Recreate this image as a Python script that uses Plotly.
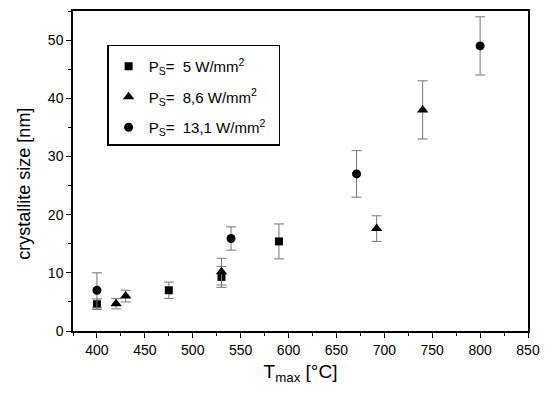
import plotly.graph_objects as go

# P_S = 5 W/mm2 (squares)
sq_x = [400, 475, 530, 590]
sq_y = [4.6, 7.0, 9.3, 15.4]
sq_e = [0.9, 1.4, 1.8, 3.0]
# P_S = 8,6 W/mm2 (triangles)
tr_x = [420, 430, 530, 692, 740]
tr_y = [4.7, 6.0, 10.2, 17.6, 38.0]
tr_e = [0.9, 1.0, 2.3, 2.2, 5.0]
# P_S = 13,1 W/mm2 (circles)
ci_x = [400, 540, 671, 800]
ci_y = [7.0, 15.9, 27.0, 49.0]
ci_e = [3.0, 2.0, 4.0, 5.0]

names = ["P<sub>S</sub>=  5 W/mm<sup>2</sup>&nbsp;&nbsp;",
         "P<sub>S</sub>=  8,6 W/mm<sup>2</sup>&nbsp;&nbsp;",
         "P<sub>S</sub>=  13,1 W/mm<sup>2</sup>&nbsp;&nbsp;"]

FONT = "Liberation Sans, Arial, sans-serif"
fig = go.Figure()

def add(x, y, e, sym, size, name, grp):
    fig.add_trace(go.Scatter(
        x=x, y=y, mode="markers", name=name, legendgroup=grp,
        marker=dict(symbol=sym, size=size, color="black"),
        error_y=dict(type="data", array=e, visible=True, color="#777777",
                     thickness=1, width=5),
    ))

add(sq_x, sq_y, sq_e, "square", 8, names[0], "a")
add(tr_x, tr_y, tr_e, "triangle-up", 10, names[1], "b")
add(ci_x, ci_y, ci_e, "circle", 9, names[2], "c")

axis_common = dict(
    showgrid=False, zeroline=False, showline=True, linecolor="black",
    linewidth=1.5, mirror=True, ticks="outside", ticklen=5, tickwidth=1,
    tickcolor="black", tickfont=dict(family=FONT, size=14, color="black"),
)

fig.update_layout(
    width=551, height=393,
    margin=dict(l=73, r=23, t=9, b=62),
    plot_bgcolor="white", paper_bgcolor="white",
    font=dict(family=FONT, color="black"),
    xaxis=dict(range=[375, 850], tickvals=[400, 450, 500, 550, 600, 650, 700, 750, 800, 850],
               minor=dict(dtick=25, tick0=0, ticks="outside", ticklen=3, tickcolor="black"),
               title=dict(text="T<sub>max</sub> [°C]", font=dict(family=FONT, size=19), standoff=8),
               **axis_common),
    yaxis=dict(range=[0, 55], tickvals=[0, 10, 20, 30, 40, 50],
               minor=dict(dtick=5, tick0=0, ticks="outside", ticklen=3, tickcolor="black"),
               **axis_common),
    legend=dict(x=0.075, y=0.895, xanchor="left", yanchor="top",
                bordercolor="black", borderwidth=1.5, bgcolor="white",
                font=dict(family=FONT, size=15, color="black"),
                itemwidth=30, tracegroupgap=8,
                title=dict(text="&nbsp;", font=dict(size=3))),
    showlegend=True,
)

fig.add_annotation(text="crystallite size [nm]", textangle=-90,
                   xref="paper", yref="paper", x=-0.108, y=0.46,
                   xanchor="center", yanchor="middle", showarrow=False,
                   font=dict(family=FONT, size=18, color="black"))

fig.write_html("out.html")
